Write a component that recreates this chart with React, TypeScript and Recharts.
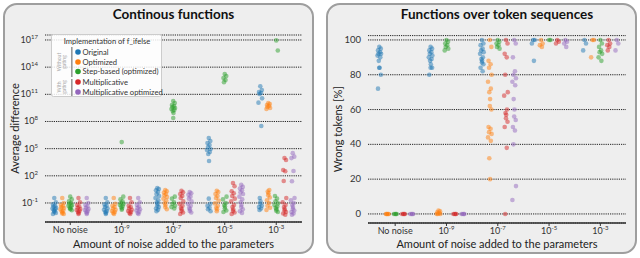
import React from "react";
import { Scatter, ScatterChart, XAxis, YAxis, CartesianGrid } from "recharts";

// x categories (noise level); "^" splits base and exponent
const noiseLevels = ["No noise", "10^-9", "10^-7", "10^-5", "10^-3"];

const seriesNames = [
  "Original",
  "Optimized",
  "Step-based (optimized)",
  "Multiplicative",
  "Multiplicative optimized",
];
const colors = ["#1f77b4", "#ff7f0e", "#2ca02c", "#d62728", "#9467bd"];

// Continuous functions: average difference, one list per noise level
const contOriginal = [
  [0.35, 0.12, 0.07, 0.05, 0.04, 0.03, 0.025, 0.02, 0.016, 0.013, 0.01, 0.008, 0.006],
  [0.35, 0.12, 0.07, 0.05, 0.035, 0.025, 0.018, 0.013, 0.01, 0.008, 0.006],
  [4.6, 3.5, 2.5, 1.6, 1.0, 0.6, 0.35, 0.2, 0.12, 0.08, 0.05, 0.035, 0.025, 0.018, 0.012],
  [1.5e6, 7e5, 4.2e5, 2.5e5, 1.5e5, 9e4, 7e4, 4.3e4, 2.6e4, 4.4e3, 0.3, 0.08, 0.05, 0.03, 0.02, 0.012],
  [7.9e11, 3e11, 1.8e11, 1.4e11, 1.1e11, 3.6e10, 1.2e10, 3.2e7, 0.35, 0.15, 0.08, 0.05, 0.035, 0.025, 0.017],
];
const contOptimized = [
  [0.35, 0.1, 0.06, 0.045, 0.035, 0.028, 0.02, 0.015, 0.012, 0.009, 0.007, 0.006],
  [0.35, 0.08, 0.05, 0.035, 0.025, 0.018, 0.013, 0.01, 0.008, 0.006],
  [2.7, 2.0, 1.4, 1.0, 0.7, 0.45, 0.3, 0.18, 0.1, 0.06, 0.035, 0.02],
  [2.2, 1.6, 1.0, 0.6, 0.35, 0.18, 0.09, 0.05, 0.03, 0.02, 0.012],
  [1.1e10, 8.5e9, 6.6e9, 5.1e9, 4e9, 3.1e9, 2.4e9, 2.7, 1.8, 1.2, 0.7, 0.4, 0.2, 0.1, 0.05, 0.03, 0.017],
];
const contStep = [
  [0.5, 0.25, 0.15, 0.1, 0.08, 0.06, 0.05, 0.04, 0.03, 0.025, 0.02, 0.016],
  [5.3e5, 0.5, 0.25, 0.15, 0.1, 0.08, 0.06, 0.045, 0.035, 0.025, 0.018],
  [1.8e10, 1.1e10, 6.6e9, 5.1e9, 4e9, 3.1e9, 2.4e9, 1.9e9, 1.4e9, 8.5e8, 2.4e8, 0.5, 0.3, 0.12, 0.08, 0.05, 0.035, 0.025],
  [1.7e13, 1.05e13, 6.3e12, 3.8e12, 2.2e12, 0.5, 0.25, 0.1, 0.06, 0.04, 0.025, 0.015, 0.01],
  [9e16, 7e15, 0.6, 0.3, 0.15, 0.09, 0.06, 0.04, 0.03, 0.02, 0.014, 0.01],
];
const contMult = [
  [0.35, 0.12, 0.06, 0.04, 0.03, 0.022, 0.017, 0.013, 0.01, 0.008, 0.006],
  [0.35, 0.12, 0.05, 0.035, 0.025, 0.018, 0.013, 0.01, 0.008, 0.006],
  [2.2, 1.5, 1.0, 0.6, 0.35, 0.15, 0.08, 0.05, 0.03, 0.02, 0.013, 0.009, 0.006],
  [16, 7, 2, 1.2, 0.6, 0.3, 0.15, 0.06, 0.035, 0.02, 0.013, 0.009, 0.006],
  [9.3e3, 5.6e3, 4.4e2, 3.2e2, 27, 0.35, 0.12, 0.06, 0.035, 0.022, 0.015, 0.01, 0.007, 0.005],
];
const contMultOpt = [
  [0.35, 0.1, 0.06, 0.04, 0.03, 0.022, 0.017, 0.013, 0.01, 0.008, 0.006],
  [0.35, 0.12, 0.06, 0.04, 0.028, 0.02, 0.015, 0.011, 0.008, 0.006],
  [1.6, 1.2, 0.8, 0.5, 0.3, 0.15, 0.08, 0.05, 0.03, 0.02, 0.013, 0.009],
  [10, 6, 4, 2.5, 1.5, 1, 0.5, 0.25, 0.12, 0.06, 0.035, 0.02, 0.012, 0.008],
  [3.2e4, 1.3e4, 9e3, 3.4e2, 25, 0.35, 0.2, 0.1, 0.06, 0.035, 0.022, 0.015, 0.01, 0.007, 0.005],
];

// Token sequences: wrong tokens [%]
const tokOriginal = [
  [96, 95, 94, 93, 92, 92, 91, 90, 88, 84, 84, 80, 72],
  [96, 95, 94, 93, 92, 91, 90, 89, 88, 86, 84, 84, 80],
  [100, 98, 97, 95, 94, 93, 92, 90, 89, 88, 87, 86, 84, 82],
  [100, 100, 98, 88],
  [100, 98, 94],
];
const tokOptimized = [
  [0, 0, 0, 0, 0],
  [2, 1.5, 1, 0.5, 0, 0, 0],
  [100, 96, 88, 86, 84, 80, 76, 72, 70, 66, 62, 60, 50, 49, 47, 46, 44, 42, 32, 20],
  [100, 98, 97, 96],
  [100, 100, 90],
];
const tokStep = [
  [0, 0, 0, 0],
  [100, 99, 98, 97, 96, 95, 94],
  [100, 99, 98, 97, 96, 95],
  [100, 100],
  [100, 98, 96, 94, 93, 92, 90, 88],
];
const tokMult = [
  [0, 0, 0, 0],
  [0, 0, 0, 0],
  [100, 98, 92, 90, 80, 70, 68, 60, 58, 57, 55, 53, 50, 38, 0],
  [100, 99, 98],
  [100, 98, 97, 96, 94],
];
const tokMultOpt = [
  [0, 0, 0, 0],
  [0, 0, 0, 0],
  [100, 98, 90, 82, 80, 78, 76, 74, 66, 60, 56, 54, 50, 48, 40, 16, 8],
  [100, 99, 98, 96],
  [100, 98, 94],
];

const logTicks = [1e-1, 1e2, 1e5, 1e8, 1e11, 1e14, 1e17];
const pctTicks = [0, 20, 40, 60, 80, 100];

const contSeries = [contOriginal, contOptimized, contStep, contMult, contMultOpt];
const tokSeries = [tokOriginal, tokOptimized, tokStep, tokMult, tokMultOpt];

// horizontal placement of the strips
const offsets = [-0.31, -0.155, 0, 0.16, 0.32];
const jitter = [0, 0.03, -0.025, 0.015, -0.015, 0.035, -0.035, 0.02, -0.01, 0.005];

function toPoints(groups: number[][], s: number) {
  const pts: { x: number; y: number }[] = [];
  groups.forEach((vals, g) => {
    vals.forEach((v, k) => pts.push({ x: g + offsets[s] + jitter[k % jitter.length], y: v }));
  });
  return pts;
}

const FONT = "Lato, 'Noto Sans', sans-serif";
const INK = "#333";

function dot(color: string) {
  return (p: any) => <circle cx={p.cx} cy={p.cy} r={2.3} fill={color} fillOpacity={0.5} />;
}

function XTick({ x, y, payload }: any) {
  const label = noiseLevels[payload.value];
  const [base, exp] = label.split("^");
  return (
    <text x={x} y={y + 6} textAnchor="middle" fontSize={9} fill={INK} fontFamily={FONT}>
      {base}
      {exp && (
        <tspan dy={-4} fontSize={6}>
          {exp}
        </tspan>
      )}
    </text>
  );
}

function LogTick({ x, y, payload }: any) {
  const e = Math.round(Math.log10(payload.value));
  return (
    <text x={x} y={y + 3} textAnchor="end" fontSize={9} fill={INK} fontFamily={FONT}>
      10
      <tspan dy={-4} fontSize={6}>
        {e}
      </tspan>
    </text>
  );
}

function PctTick({ x, y, payload }: any) {
  return (
    <text x={x} y={y + 3} textAnchor="end" fontSize={9.5} fill={INK} fontFamily={FONT}>
      {payload.value}
    </text>
  );
}

function Legend() {
  const rows = [52, 62, 71.5, 82, 92];
  return (
    <svg
      width={112}
      height={64}
      style={{ position: "absolute", left: 51, top: 34 }}
    >
      <rect x={0.5} y={0.5} width={110} height={62} rx={2} fill="#fff" fillOpacity={0.85} stroke="#ccc" />
      <text x={56} y={10} textAnchor="middle" fontSize={7.6} fill={INK} fontFamily={FONT}>
        Implementation of f_ifelse
      </text>
      <rect x={20} y={13} width={1.6} height={30} fill="#999" />
      <rect x={20} y={45} width={1.6} height={17} fill="#999" />
      <text transform="translate(12,28) rotate(-90)" textAnchor="middle" fontSize={5} fill="#aaa" fontFamily={FONT}>
        <tspan x={0} dy={-2}>Without</tspan>
        <tspan x={0} dy={5}>gating</tspan>
      </text>
      <text transform="translate(12,53) rotate(-90)" textAnchor="middle" fontSize={5} fill="#aaa" fontFamily={FONT}>
        <tspan x={0} dy={-2}>With</tspan>
        <tspan x={0} dy={5}>gating</tspan>
      </text>
      {seriesNames.map((n, i) => (
        <g key={n}>
          <circle cx={27} cy={rows[i] - 34} r={2.8} fill={colors[i]} />
          <text x={31.5} y={rows[i] - 31.3} fontSize={7.6} fill={INK} fontFamily={FONT}>
            {n}
          </text>
        </g>
      ))}
    </svg>
  );
}

const panelStyle: React.CSSProperties = {
  position: "absolute",
  top: 3,
  height: 251,
  boxSizing: "border-box",
  border: "2px solid #9e9e9e",
  borderRadius: 14,
  background: "#eeeeee",
};

const titleStyle: React.CSSProperties = {
  position: "absolute",
  top: 6,
  fontFamily: FONT,
  fontWeight: 700,
  fontSize: 13.5,
  color: "#111",
  textAlign: "center",
  whiteSpace: "nowrap",
};

const xLabelStyle: React.CSSProperties = {
  position: "absolute",
  top: 237,
  fontFamily: FONT,
  fontSize: 11,
  color: "#222",
  textAlign: "center",
  whiteSpace: "nowrap",
};

export default function App() {
  return (
    <div style={{ position: "absolute", left: 0, top: 0, width: 640, height: 258, background: "#fff" }}>
      <div style={{ ...panelStyle, left: 3, width: 311 }} />
      <div style={{ ...panelStyle, left: 326, width: 311 }} />

      <div style={{ ...titleStyle, left: 45, width: 257 }}>Continous functions</div>
      <div style={{ ...titleStyle, left: 368, width: 258 }}>Functions over token sequences</div>
      <div style={{ ...xLabelStyle, left: 45, width: 257 }}>Amount of noise added to the parameters</div>
      <div style={{ ...xLabelStyle, left: 368, width: 258 }}>Amount of noise added to the parameters</div>

      <div style={{ position: "absolute", left: 0, top: 0 }}>
        <ScatterChart width={320} height={258} margin={{ top: 35, right: 18, bottom: 16, left: 5 }}>
          <CartesianGrid vertical={false} stroke="#222" strokeDasharray="1.2 1" strokeWidth={1} />
          <XAxis
            type="number"
            dataKey="x"
            domain={[-0.49, 4.5]}
            ticks={[0, 1, 2, 3, 4]}
            allowDataOverflow
            height={20}
            tick={<XTick />}
            tickSize={3}
            stroke={INK}
            axisLine={{ stroke: INK, strokeWidth: 1.5 }}
            tickLine={{ stroke: INK }}
          />
          <YAxis
            type="number"
            dataKey="y"
            scale="log"
            domain={[Math.pow(10, -3.1), Math.pow(10, 17.55)]}
            allowDataOverflow
            ticks={logTicks}
            width={40}
            axisLine={false}
            tickLine={false}
            tick={<LogTick />}
            tickMargin={1}
            label={{
              value: "Average difference",
              angle: -90,
              position: "insideLeft",
              offset: 10,
              style: { textAnchor: "middle", fontSize: 11, fill: "#222", fontFamily: FONT },
            }}
          />
          {contSeries.map((groups, s) => (
            <Scatter
              key={s}
              data={toPoints(groups, s)}
              shape={dot(colors[s])}
              isAnimationActive={false}
            />
          ))}
        </ScatterChart>
      </div>

      <div style={{ position: "absolute", left: 320, top: 0 }}>
        <ScatterChart width={320} height={258} margin={{ top: 35.6, right: 14, bottom: 15, left: 8 }}>
          <CartesianGrid vertical={false} stroke="#222" strokeDasharray="1.2 1" strokeWidth={1} />
          <XAxis
            type="number"
            dataKey="x"
            domain={[-0.53, 4.5]}
            ticks={[0, 1, 2, 3, 4]}
            allowDataOverflow
            height={20}
            tick={<XTick />}
            tickSize={3}
            stroke={INK}
            axisLine={{ stroke: INK, strokeWidth: 1.5 }}
            tickLine={{ stroke: INK }}
          />
          <YAxis
            type="number"
            dataKey="y"
            domain={[-5.2, 102.5]}
            allowDataOverflow
            ticks={pctTicks}
            width={40}
            axisLine={false}
            tickLine={false}
            tick={<PctTick />}
            tickMargin={1}
            label={{
              value: "Wrong tokens [%]",
              angle: -90,
              position: "insideLeft",
              offset: 10,
              style: { textAnchor: "middle", fontSize: 11, fill: "#222", fontFamily: FONT },
            }}
          />
          {tokSeries.map((groups, s) => (
            <Scatter
              key={s}
              data={toPoints(groups, s)}
              shape={dot(colors[s])}
              isAnimationActive={false}
            />
          ))}
        </ScatterChart>
      </div>

      <Legend />
    </div>
  );
}
